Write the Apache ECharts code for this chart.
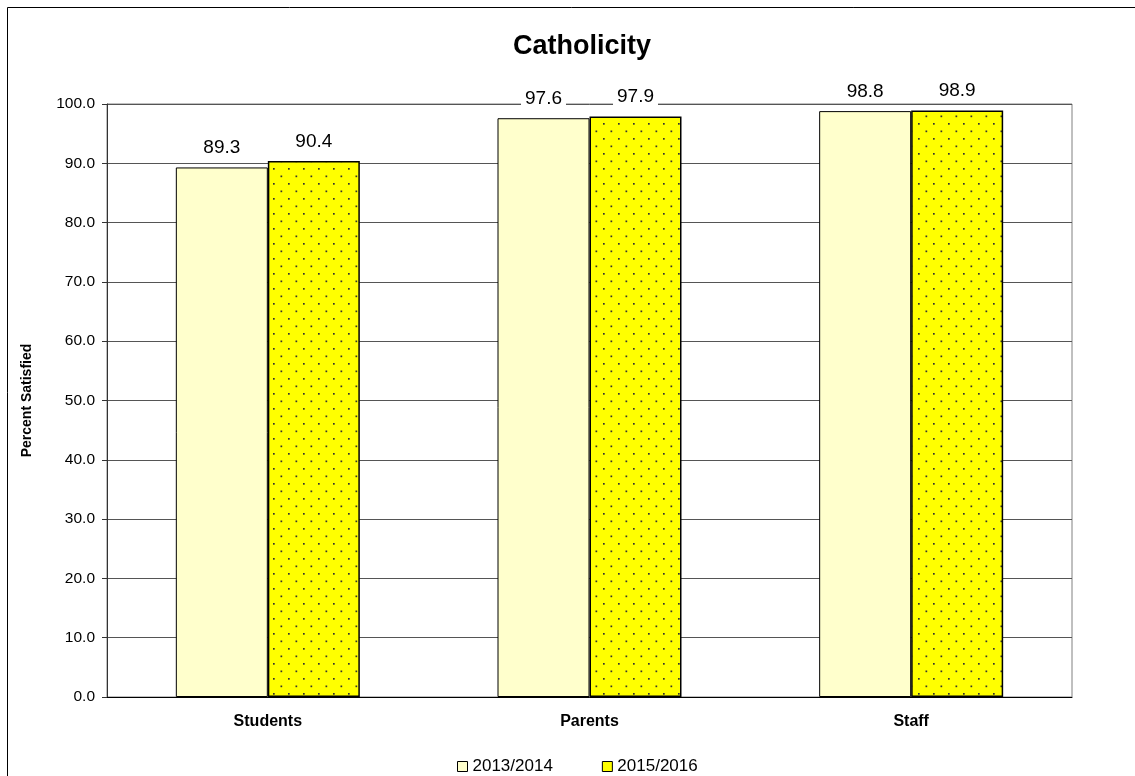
<!DOCTYPE html>
<html>
<head>
<meta charset="utf-8">
<script src="https://cdn.jsdelivr.net/npm/echarts@6/dist/echarts.min.js"></script>
<style>
html,body{margin:0;padding:0;background:#fff;}
#c{width:1135px;height:776px;}
</style>
</head>
<body>
<div id="c"></div>
<script>
const categories = ['Students', 'Parents', 'Staff'];
const seriesNames = ['2013/2014', '2015/2016'];
const values2013 = [89.3, 97.6, 98.8];
const values2015 = [90.4, 97.9, 98.9];
const yTicks = { min: 0, max: 100, interval: 10 };

function dotPattern() {
  const cv = document.createElement('canvas');
  cv.width = 15; cv.height = 15;
  const ctx = cv.getContext('2d');
  ctx.fillStyle = '#FFFF00';
  ctx.fillRect(0, 0, 15, 15);
  ctx.fillStyle = '#333333';
  ctx.fillRect(3, 3, 1.7, 1.7);
  ctx.fillRect(10.5, 10.5, 1.7, 1.7);
  return cv;
}

const FONT = 'Liberation Sans, Arial, sans-serif';
const chart = echarts.init(document.getElementById('c'), null, { renderer: 'canvas' });

const labelCfg = {
  show: true,
  position: 'top',
  distance: 10,
  formatter: p => p.value.toFixed(1),
  fontFamily: FONT,
  fontSize: 19,
  color: '#000',
  backgroundColor: '#fff',
  padding: [1, 4, 0, 4]
};

chart.setOption({
  animation: false,
  backgroundColor: '#fff',
  title: {
    text: 'Catholicity',
    left: 508,
    top: 28,
    textStyle: { fontFamily: FONT, fontSize: 27, fontWeight: 'bold', color: '#000' }
  },
  graphic: [{
    type: 'rect',
    shape: { x: 7.5, y: 7.5, width: 1300, height: 1000 },
    style: { fill: 'none', stroke: '#000', lineWidth: 1 },
    z: 100, silent: true
  }],
  legend: {
    top: 753,
    left: 452,
    itemWidth: 10,
    itemHeight: 10,
    itemGap: 49,
    icon: 'rect',
    textStyle: { fontFamily: FONT, fontSize: 17, color: '#000' },
    data: [
      { name: seriesNames[0], itemStyle: { color: '#FFFFCC', borderColor: '#000', borderWidth: 1 } },
      { name: seriesNames[1], itemStyle: { color: '#FFFF00', borderColor: '#000', borderWidth: 1 } }
    ]
  },
  grid: {
    left: 107, right: 63, top: 104, bottom: 79,
    show: true, borderColor: '#808080', borderWidth: 1, backgroundColor: 'transparent'
  },
  xAxis: {
    type: 'category',
    data: categories,
    axisTick: { show: false },
    axisLine: { lineStyle: { color: '#000', width: 1 } },
    axisLabel: { fontFamily: FONT, fontSize: 16, fontWeight: 'bold', color: '#000', margin: 17 }
  },
  yAxis: {
    type: 'value',
    min: yTicks.min, max: yTicks.max, interval: yTicks.interval,
    name: 'Percent Satisfied',
    nameLocation: 'middle',
    nameGap: 73,
    nameTextStyle: { fontFamily: FONT, fontSize: 14, fontWeight: 'bold', color: '#000' },
    axisLine: { show: true, lineStyle: { color: '#333', width: 1 } },
    axisTick: { show: true, length: 5, lineStyle: { color: '#333' } },
    splitLine: { lineStyle: { color: '#555', width: 1 } },
    axisLabel: { fontFamily: FONT, fontSize: 15.5, color: '#000', margin: 12, formatter: v => v.toFixed(1) }
  },
  series: [
    {
      name: seriesNames[0], type: 'bar', data: values2013,
      barWidth: 92, barGap: '0%',
      itemStyle: { color: '#FFFFCC', borderColor: '#000', borderWidth: 1 },
      label: labelCfg
    },
    {
      name: seriesNames[1], type: 'bar', data: values2015,
      barWidth: 92, barGap: '0%',
      itemStyle: { color: { image: dotPattern(), repeat: 'repeat' }, borderColor: '#000', borderWidth: 1.5 },
      label: labelCfg
    }
  ]
});
</script>
</body>
</html>
